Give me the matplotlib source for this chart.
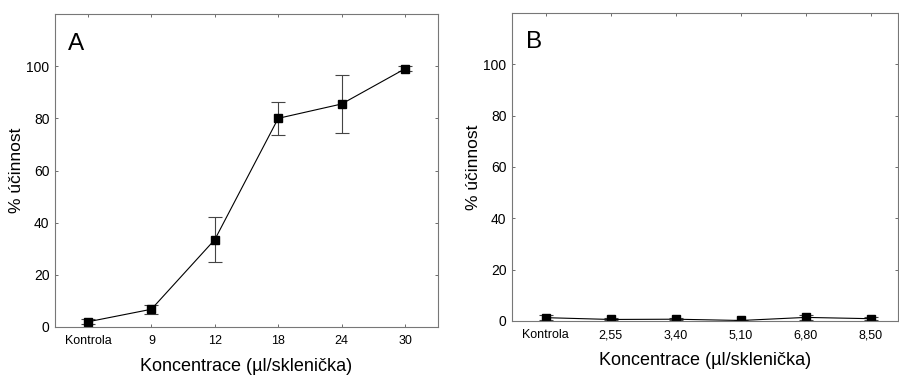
import numpy as np
import matplotlib.pyplot as plt

plt.rcParams['font.family'] = ['Liberation Sans', 'DejaVu Sans']

# panel A
labels_a = ["Kontrola", "9", "12", "18", "24", "30"]
mean_a = [2.0, 6.8, 33.5, 80.0, 85.5, 99.0]
err_a = [1.0, 1.8, 8.5, 6.4, 11.0, 1.0]

# panel B
labels_b = ["Kontrola", "2,55", "3,40", "5,10", "6,80", "8,50"]
mean_b = [1.3, 0.6, 0.7, 0.2, 1.4, 0.9]
err_b = [1.0, 0.4, 0.5, 0.2, 1.0, 0.5]

fig = plt.figure(figsize=(8.99, 3.8), dpi=100)
axA = fig.add_axes([55/899, 53/380, 383/899, 313/380])
axB = fig.add_axes([512/899, 59/380, 386/899, 308/380])

def panel(ax, labels, mean, err, letter, xmax):
    x = np.arange(len(labels))
    ax.errorbar(x, mean, yerr=err, fmt="s-", color="black", lw=0.8,
                ms=6, elinewidth=0.8, capsize=5, capthick=0.8,
                ecolor="#444444")
    ax.set_xlim(-0.52, xmax)
    ax.set_ylim(0, 120)
    ax.set_yticks([0, 20, 40, 60, 80, 100])
    ax.set_xticks(x)
    ax.set_xticklabels(labels, fontsize=9)
    ax.tick_params(axis="y", labelsize=10, pad=4)
    ax.tick_params(axis="x", pad=6)
    ax.tick_params(direction="in", length=2.5, width=0.6, color="#555555",
                   top=True, right=True)
    for s in ax.spines.values():
        s.set_color("#777777")
        s.set_linewidth(0.8)
    ax.set_xlabel("Koncentrace (µl/sklenička)", fontsize=13, labelpad=8)
    ax.set_ylabel("% účinnost", fontsize=12.5, labelpad=2)
    ax.text(0.035, 0.905, letter, transform=ax.transAxes, fontsize=17.5,
            va="center", ha="left")

panel(axA, labels_a, mean_a, err_a, "A", 5.52)
panel(axB, labels_b, mean_b, err_b, "B", 5.42)

fig.savefig("out.png", dpi=100)
